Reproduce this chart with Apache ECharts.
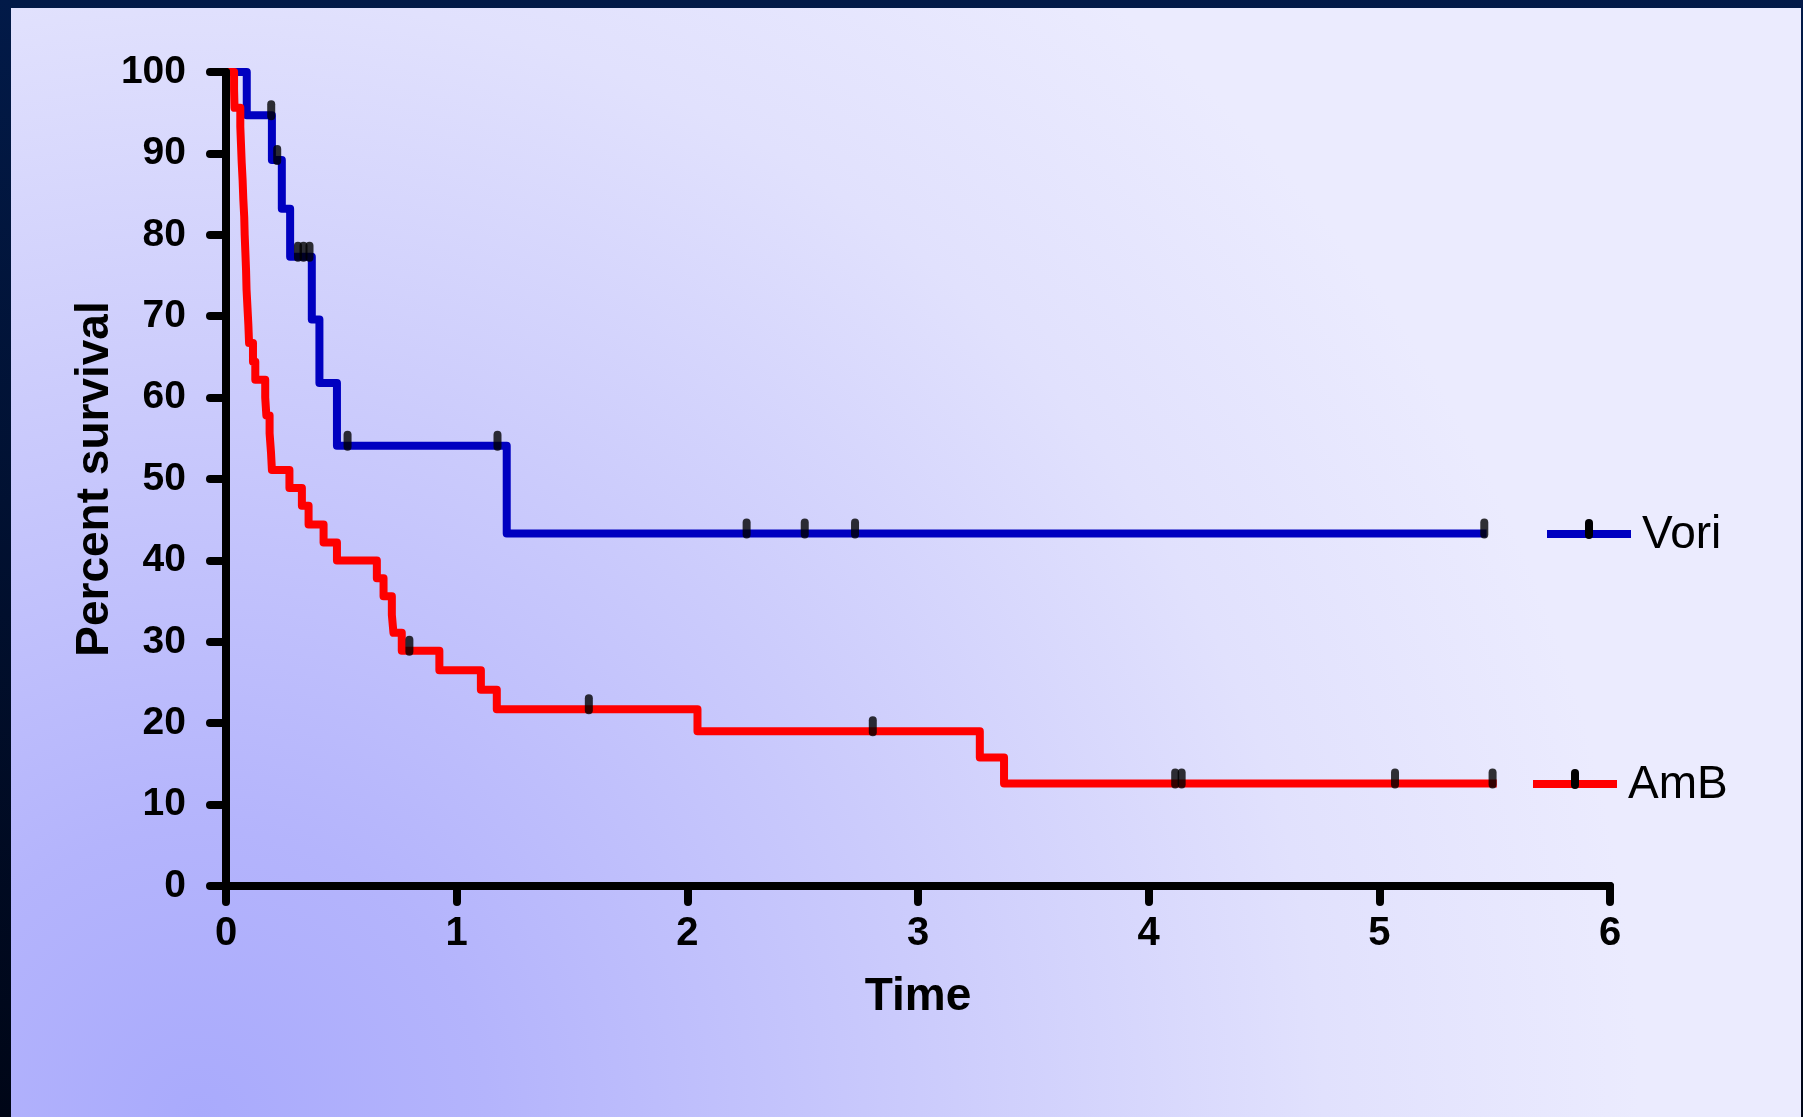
<!DOCTYPE html>
<html>
<head>
<meta charset="utf-8">
<script src="https://cdn.jsdelivr.net/npm/echarts@6/dist/echarts.min.js"></script>
<style>
html,body{margin:0;padding:0;background:#011236;overflow:hidden;}
#c{width:1803px;height:1117px;}
</style>
</head>
<body>
<div id="c"></div>
<script>
// ---- data ----
const xTickValues = [0, 1, 2, 3, 4, 5, 6];
const yTickValues = [0, 10, 20, 30, 40, 50, 60, 70, 80, 90, 100];

const voriTime = [0, 0.09, 0.199, 0.242, 0.278, 0.372, 0.405, 0.481, 1.217, 5.465];
const voriSurv = [100, 94.7, 89.2, 83.2, 77.3, 69.6, 61.8, 54.1, 43.3, 43.3];
const voriCensorTime = [0.196, 0.222, 0.312, 0.336, 0.362, 0.527, 1.177, 2.257, 2.509, 2.727, 5.455];
const voriCensorSurv = [94.7, 89.2, 77.3, 77.3, 77.3, 54.1, 54.1, 43.3, 43.3, 43.3, 43.3];

const ambTime = [0, 0.035, 0.037, 0.062, 0.065, 0.068, 0.072, 0.075, 0.079, 0.081, 0.084, 0.087,
  0.089, 0.093, 0.097, 0.100, 0.117, 0.127, 0.170, 0.175, 0.189, 0.195, 0.199, 0.275, 0.329,
  0.358, 0.423, 0.481, 0.654, 0.683, 0.719, 0.726, 0.762, 0.925, 1.105, 1.174, 2.044, 3.268,
  3.373, 5.509];
const ambSurv = [100, 97.8, 95.6, 93.3, 91.1, 88.9, 86.7, 84.4, 82.2, 80.0, 77.8, 75.6,
  73.3, 71.1, 68.9, 66.7, 64.4, 62.2, 60.0, 57.8, 55.6, 53.3, 51.1, 48.9, 46.7,
  44.4, 42.2, 40.0, 37.8, 35.6, 33.3, 31.1, 28.9, 26.5, 24.1, 21.7, 19.0, 15.8,
  12.6, 12.6];
const ambCensorTime = [0.795, 1.573, 2.804, 4.115, 4.143, 5.068, 5.491];
const ambCensorSurv = [28.9, 21.7, 19.0, 12.6, 12.6, 12.6, 12.6];

const seriesNames = ['Vori', 'AmB'];
const xAxisTitle = 'Time';
const yAxisTitle = 'Percent survival';

// ---- build ----
const zip = (a, b) => a.map((v, i) => [v, b[i]]);
const FONT = '"Liberation Sans", Arial, Helvetica, sans-serif';
const BLUE = '#0000c0';
const RED = '#ff0000';
const LW = 8;
const censorSymbol = 'path://M4,0 A4,4 0 0 1 8,4 L8,16 A4,4 0 0 1 4,20 A4,4 0 0 1 0,16 L0,4 A4,4 0 0 1 4,0 Z';

const chart = echarts.init(document.getElementById('c'), null, {renderer: 'canvas'});

const axisCommon = {
  type: 'value',
  z: 5,
  nameMoveOverlap: false,
  axisLine: {show: true, onZero: false, lineStyle: {color: '#000', width: LW, cap: 'round'}},
  axisTick: {show: true, length: 16, lineStyle: {color: '#000', width: LW, cap: 'round'}},
  splitLine: {show: false},
  nameLocation: 'middle',
  nameTextStyle: {fontSize: 46, fontWeight: 'bold', color: '#000', fontFamily: FONT}
};

const legendItems = [
  {name: seriesNames[0], color: BLUE, x1: 1547, x2: 1631, y: 534, tx: 1589, textX: 1642},
  {name: seriesNames[1], color: RED, x1: 1533, x2: 1617, y: 784, tx: 1575, textX: 1628}
];
const legendGraphics = [];
legendItems.forEach(it => {
  legendGraphics.push({type: 'line', shape: {x1: it.x1, y1: it.y, x2: it.x2, y2: it.y},
    style: {stroke: it.color, lineWidth: LW}, z: 10});
  legendGraphics.push({type: 'rect', shape: {x: it.tx - 4, y: it.y - 15, width: 8, height: 20, r: 4},
    style: {fill: '#000'}, z: 11});
  legendGraphics.push({type: 'text', x: it.textX, y: it.y + 1,
    style: {text: it.name, font: '46px ' + FONT, fill: '#000', verticalAlign: 'middle', align: 'left'}, z: 11});
});

const option = {
  animation: false,
  backgroundColor: new echarts.graphic.LinearGradient(0, 0, 0, 1, [
    {offset: 0, color: '#021a48'}, {offset: 1, color: '#000617'}
  ]),
  graphic: [
    {type: 'rect', z: -100, silent: true,
     shape: {x: 11, y: 8, width: 1790, height: 1109},
     style: {fill: new echarts.graphic.RadialGradient(0.105, 1.0, 1.3, [
       {offset: 0, color: '#a9aafc'},
       {offset: 0.2, color: '#b4b4fc'},
       {offset: 0.5, color: '#cbcbfc'},
       {offset: 0.78, color: '#e1e1fd'},
       {offset: 1, color: '#ebebfe'}
     ])}}
  ].concat(legendGraphics),
  grid: {left: 226, right: 193, top: 72, bottom: 231, containLabel: false},
  xAxis: Object.assign({}, axisCommon, {
    min: xTickValues[0], max: xTickValues[xTickValues.length - 1], interval: 1,
    name: xAxisTitle, nameGap: 88,
    axisLabel: {fontSize: 40, fontWeight: 'bold', color: '#000', fontFamily: FONT, margin: 28}
  }),
  yAxis: Object.assign({}, axisCommon, {
    min: yTickValues[0], max: yTickValues[yTickValues.length - 1], interval: 10,
    name: yAxisTitle, nameGap: 108,
    axisLabel: {fontSize: 39, fontWeight: 'bold', color: '#000', fontFamily: FONT, margin: 40}
  }),
  series: [
    {name: seriesNames[0], type: 'line', step: 'end', data: zip(voriTime, voriSurv),
     showSymbol: false, symbol: 'none', clip: false, z: 2,
     lineStyle: {color: BLUE, width: LW, join: 'round', cap: 'butt'}},
    {name: seriesNames[1], type: 'line', step: 'end', data: zip(ambTime, ambSurv),
     showSymbol: false, symbol: 'none', clip: false, z: 3,
     lineStyle: {color: RED, width: LW, join: 'round', cap: 'butt'}},
    {name: seriesNames[0] + ' censored', type: 'scatter', data: zip(voriCensorTime, voriCensorSurv),
     symbol: censorSymbol, symbolSize: [8, 20], symbolOffset: [0, -5], clip: false, z: 6,
     itemStyle: {color: '#000'}},
    {name: seriesNames[1] + ' censored', type: 'scatter', data: zip(ambCensorTime, ambCensorSurv),
     symbol: censorSymbol, symbolSize: [8, 20], symbolOffset: [0, -5], clip: false, z: 6,
     itemStyle: {color: '#000'}}
  ]
};
chart.setOption(option);
</script>
</body>
</html>
